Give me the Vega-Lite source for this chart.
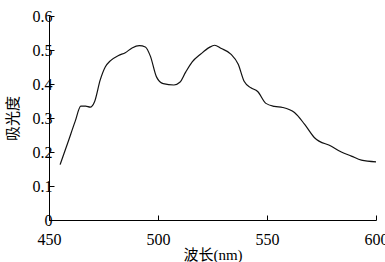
{
  "$schema": "https://vega.github.io/schema/vega-lite/v6.json",
  "width": 327,
  "height": 204,
  "autosize": {"type": "none"},
  "padding": {"left": 49, "top": 16, "right": 9, "bottom": 42},
  "background": "white",
  "config": {
    "view": {"stroke": null},
    "font": "Liberation Serif, Noto Sans CJK SC",
    "axis": {
      "domainColor": "#000",
      "tickColor": "#000",
      "labelColor": "#000",
      "titleColor": "#000",
      "grid": false,
      "labelFlush": false,
      "labelOverlap": false,
      "labelFont": "Liberation Serif",
      "labelFontSize": 16,
      "titleFont": "Liberation Serif, Noto Sans CJK SC",
      "titleFontSize": 15,
      "titleFontWeight": "normal",
      "tickSize": -5,
      "domainWidth": 1,
      "tickWidth": 1
    }
  },
  "data": {
    "values": [
      {"nm": 455.1, "a": 0.163},
      {"nm": 458.5, "a": 0.225},
      {"nm": 462, "a": 0.29},
      {"nm": 464.6, "a": 0.335},
      {"nm": 466.8, "a": 0.335},
      {"nm": 468.9, "a": 0.332},
      {"nm": 470.9, "a": 0.348},
      {"nm": 473.5, "a": 0.412},
      {"nm": 475.8, "a": 0.45},
      {"nm": 478.1, "a": 0.468},
      {"nm": 481.9, "a": 0.484},
      {"nm": 485, "a": 0.492},
      {"nm": 488.1, "a": 0.506},
      {"nm": 491.4, "a": 0.513},
      {"nm": 494.2, "a": 0.509},
      {"nm": 496.5, "a": 0.482},
      {"nm": 499.3, "a": 0.421},
      {"nm": 502.4, "a": 0.401},
      {"nm": 507.3, "a": 0.397},
      {"nm": 510, "a": 0.405},
      {"nm": 512.7, "a": 0.435},
      {"nm": 515.7, "a": 0.465},
      {"nm": 519.6, "a": 0.488},
      {"nm": 523.4, "a": 0.507},
      {"nm": 526, "a": 0.514},
      {"nm": 528.8, "a": 0.505},
      {"nm": 533.4, "a": 0.488},
      {"nm": 536.8, "a": 0.458},
      {"nm": 539.5, "a": 0.408},
      {"nm": 542.6, "a": 0.389},
      {"nm": 545.7, "a": 0.378},
      {"nm": 549.5, "a": 0.343},
      {"nm": 553.4, "a": 0.334},
      {"nm": 557.2, "a": 0.331},
      {"nm": 562.6, "a": 0.316},
      {"nm": 567.2, "a": 0.282},
      {"nm": 571.8, "a": 0.242},
      {"nm": 579.5, "a": 0.217},
      {"nm": 584.1, "a": 0.2},
      {"nm": 588.7, "a": 0.188},
      {"nm": 593.3, "a": 0.176},
      {"nm": 600, "a": 0.171}
    ]
  },
  "mark": {"type": "line", "color": "#111", "strokeWidth": 1.2, "interpolate": "monotone"},
  "encoding": {
    "x": {
      "field": "nm", "type": "quantitative",
      "scale": {"domain": [450, 600], "nice": false, "zero": false},
      "axis": {"values": [450, 500, 550, 600], "title": "波长(nm)", "labelPadding": 16, "titlePadding": 0}
    },
    "y": {
      "field": "a", "type": "quantitative",
      "scale": {"domain": [0, 0.6], "nice": false},
      "axis": {"values": [0, 0.1, 0.2, 0.3, 0.4, 0.5, 0.6], "format": "~g", "title": "吸光度", "labelPadding": 2, "titlePadding": 12}
    }
  }
}
